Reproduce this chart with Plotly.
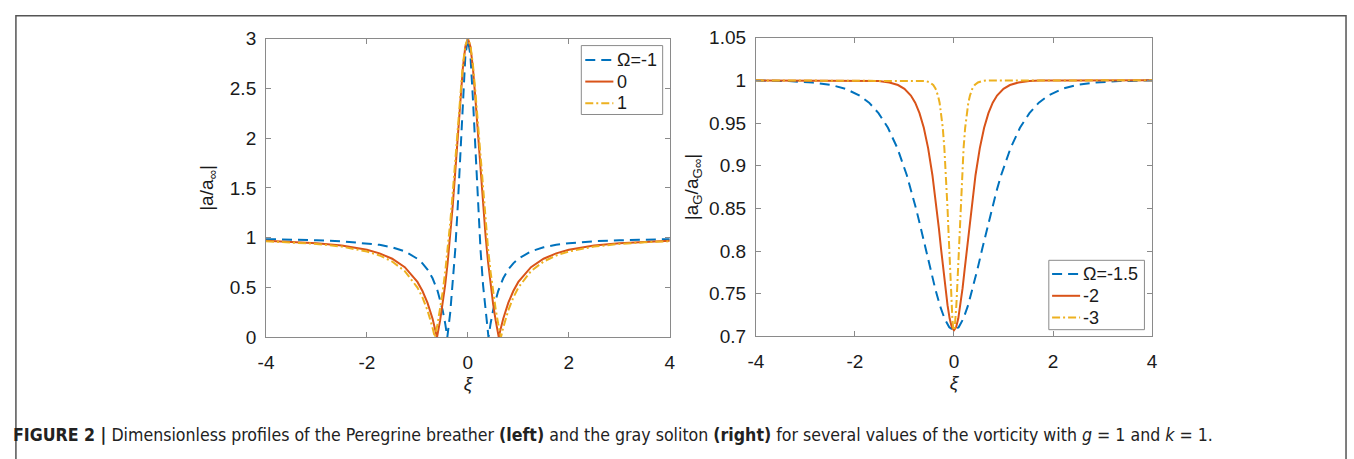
import plotly.graph_objects as go

# ---------------- Left panel: Peregrine breather |a/a_inf| ----------------
xi_m1 = [-4, -3.5, -3, -2.5, -2, -1.75, -1.5, -1.25, -1, -0.9, -0.8, -0.7, -0.6, -0.5, -0.45, -0.408,
         -0.35, -0.3, -0.25, -0.2, -0.15, -0.1, -0.05, 0,
         0.05, 0.1, 0.15, 0.2, 0.25, 0.3, 0.35, 0.408, 0.45, 0.5, 0.6, 0.7, 0.8, 0.9, 1, 1.25, 1.5,
         1.75, 2, 2.5, 3, 3.5, 4]
amp_m1 = [0.986, 0.982, 0.975, 0.965, 0.945, 0.929, 0.904, 0.863, 0.789, 0.743, 0.681, 0.593, 0.465, 0.273,
          0.139, 0.0, 0.248, 0.527, 0.882, 1.326, 1.847, 2.390, 2.828, 3.0,
          2.828, 2.390, 1.847, 1.326, 0.882, 0.527, 0.248, 0.0, 0.139, 0.273, 0.465, 0.593, 0.681, 0.743,
          0.789, 0.863, 0.904, 0.929, 0.945, 0.965, 0.975, 0.982, 0.986]

xi_0 = [-4, -3.5, -3, -2.5, -2, -1.75, -1.5, -1.25, -1, -0.9, -0.8, -0.7, -0.65, -0.612, -0.55, -0.5,
        -0.45, -0.4, -0.35, -0.3, -0.25, -0.2, -0.15, -0.1, -0.05, 0,
        0.05, 0.1, 0.15, 0.2, 0.25, 0.3, 0.35, 0.4, 0.45, 0.5, 0.55, 0.612, 0.65, 0.7, 0.8, 0.9, 1,
        1.25, 1.5, 1.75, 2, 2.5, 3, 3.5, 4]
amp_0 = [0.969, 0.960, 0.945, 0.922, 0.879, 0.843, 0.789, 0.704, 0.556, 0.465, 0.346, 0.187, 0.087, 0.0,
         0.170, 0.333, 0.527, 0.754, 1.020, 1.326, 1.667, 2.030, 2.390, 2.704, 2.922, 3.0,
         2.922, 2.704, 2.390, 2.030, 1.667, 1.326, 1.020, 0.754, 0.527, 0.333, 0.170, 0.0, 0.087, 0.187,
         0.346, 0.465, 0.556, 0.704, 0.789, 0.843, 0.879, 0.922, 0.945, 0.960, 0.969]

xi_p1 = [-4, -3.5, -3, -2.5, -2, -1.75, -1.5, -1.25, -1, -0.9, -0.8, -0.7, -0.655, -0.6, -0.55, -0.5,
         -0.45, -0.4, -0.35, -0.3, -0.25, -0.2, -0.15, -0.1, -0.05, 0,
         0.05, 0.1, 0.15, 0.2, 0.25, 0.3, 0.35, 0.4, 0.45, 0.5, 0.55, 0.6, 0.655, 0.7, 0.8, 0.9, 1,
         1.25, 1.5, 1.75, 2, 2.5, 3, 3.5, 4]
amp_p1 = [0.965, 0.954, 0.938, 0.911, 0.862, 0.822, 0.761, 0.665, 0.500, 0.400, 0.270, 0.097, 0.0, 0.136,
          0.283, 0.455, 0.655, 0.887, 1.153, 1.454, 1.783, 2.125, 2.456, 2.738, 2.931, 3.0,
          2.931, 2.738, 2.456, 2.125, 1.783, 1.454, 1.153, 0.887, 0.655, 0.455, 0.283, 0.136, 0.0, 0.097,
          0.270, 0.400, 0.500, 0.665, 0.761, 0.822, 0.862, 0.911, 0.938, 0.954, 0.965]

# ---------------- Right panel: gray soliton |a_G/a_G_inf| ----------------
xi_g15 = [-4, -3.810, -3.333, -2.857, -2.476, -2.190, -1.905, -1.714, -1.524, -1.333, -1.143, -0.952,
          -0.857, -0.762, -0.667, -0.571, -0.476, -0.381, -0.286, -0.190, -0.095, 0,
          0.095, 0.190, 0.286, 0.381, 0.476, 0.571, 0.667, 0.762, 0.857, 0.952, 1.143, 1.333, 1.524,
          1.714, 1.905, 2.190, 2.476, 2.857, 3.333, 3.810, 4]
amp_g15 = [0.9998, 0.9997, 0.9991, 0.9975, 0.9945, 0.9901, 0.9822, 0.9738, 0.9616, 0.9444, 0.9206, 0.8888,
           0.8698, 0.8488, 0.8262, 0.8026, 0.7790, 0.7564, 0.7365, 0.7208, 0.7106, 0.7071,
           0.7106, 0.7208, 0.7365, 0.7564, 0.7790, 0.8026, 0.8262, 0.8488, 0.8698, 0.8888, 0.9206, 0.9444,
           0.9616, 0.9738, 0.9822, 0.9901, 0.9945, 0.9975, 0.9991, 0.9997, 0.9998]

xi_g2 = [-4, -2.174, -1.739, -1.522, -1.304, -1.130, -1.0, -0.870, -0.783, -0.696, -0.609, -0.522, -0.435,
         -0.391, -0.348, -0.304, -0.261, -0.217, -0.174, -0.130, -0.087, -0.043, 0,
         0.043, 0.087, 0.130, 0.174, 0.217, 0.261, 0.304, 0.348, 0.391, 0.435, 0.522, 0.609, 0.696, 0.783,
         0.870, 1.0, 1.130, 1.304, 1.522, 1.739, 2.174, 4]
amp_g2 = [1.0, 0.9999, 0.9997, 0.9991, 0.9975, 0.9945, 0.9901, 0.9822, 0.9738, 0.9616, 0.9444, 0.9206,
          0.8888, 0.8698, 0.8488, 0.8262, 0.8026, 0.7790, 0.7564, 0.7365, 0.7208, 0.7106, 0.7071,
          0.7106, 0.7208, 0.7365, 0.7564, 0.7790, 0.8026, 0.8262, 0.8488, 0.8698, 0.8888, 0.9206, 0.9444,
          0.9616, 0.9738, 0.9822, 0.9901, 0.9945, 0.9975, 0.9991, 0.9997, 0.9999, 1.0]

xi_g3 = [-4, -0.806, -0.645, -0.565, -0.484, -0.419, -0.371, -0.323, -0.290, -0.258, -0.226, -0.194,
         -0.161, -0.145, -0.129, -0.113, -0.097, -0.081, -0.065, -0.048, -0.032, -0.016, 0,
         0.016, 0.032, 0.048, 0.065, 0.081, 0.097, 0.113, 0.129, 0.145, 0.161, 0.194, 0.226, 0.258, 0.290,
         0.323, 0.371, 0.419, 0.484, 0.565, 0.645, 0.806, 4]
amp_g3 = [1.0, 0.9999, 0.9997, 0.9991, 0.9975, 0.9945, 0.9901, 0.9822, 0.9738, 0.9616, 0.9444, 0.9206,
          0.8888, 0.8698, 0.8488, 0.8262, 0.8026, 0.7790, 0.7564, 0.7365, 0.7208, 0.7106, 0.7071,
          0.7106, 0.7208, 0.7365, 0.7564, 0.7790, 0.8026, 0.8262, 0.8488, 0.8698, 0.8888, 0.9206, 0.9444,
          0.9616, 0.9738, 0.9822, 0.9901, 0.9945, 0.9975, 0.9991, 0.9997, 0.9999, 1.0]

names_left = ["Ω=-1", "0", "1"]
names_right = ["Ω=-1.5", "-2", "-3"]
x_ticks = [-4, -2, 0, 2, 4]
y_ticks_left = [0, 0.5, 1, 1.5, 2, 2.5, 3]
y_ticks_right = [0.7, 0.75, 0.8, 0.85, 0.9, 0.95, 1, 1.05]

BLUE, ORANGE, YELLOW = "#0072BD", "#D95319", "#EDB120"
W, H = 1354, 459
FONT = "Liberation Sans, Arial, Helvetica, sans-serif"
TXT = "#1a1a1a"
AXC = "#8a8a8a"

fig = go.Figure()
styles = [dict(color=BLUE, width=2, dash="10px,6px"),
          dict(color=ORANGE, width=2),
          dict(color=YELLOW, width=2, dash="8px,3px,2px,3px")]

for xs, ys, nm, st in zip([xi_m1, xi_0, xi_p1], [amp_m1, amp_0, amp_p1], names_left, styles):
    fig.add_trace(go.Scatter(x=xs, y=ys, mode="lines", name=nm, line=st,
                             xaxis="x", yaxis="y", showlegend=False))
for xs, ys, nm, st in zip([xi_g15, xi_g2, xi_g3], [amp_g15, amp_g2, amp_g3], names_right, styles):
    fig.add_trace(go.Scatter(x=xs, y=ys, mode="lines", name=nm, line=st,
                             xaxis="x2", yaxis="y2", showlegend=False))

axis_common = dict(showgrid=False, zeroline=False, showline=True, linecolor=AXC, linewidth=1,
                   mirror="ticks", ticks="inside", ticklen=5, tickcolor=AXC,
                   tickfont=dict(family=FONT, size=19, color=TXT))


def px_x(p):
    return p / W


def px_y(p):
    return 1 - p / H


title_font = dict(family=FONT, size=19, color=TXT)

fig.update_layout(
    width=W, height=H, margin=dict(l=0, r=0, t=0, b=0),
    paper_bgcolor="white", plot_bgcolor="white", showlegend=False,
    xaxis=dict(domain=[px_x(260.7), px_x(668.7)], range=[-4, 4], tickvals=x_ticks,
               ticktext=[str(t) for t in x_ticks], anchor="y", ticklabelstandoff=8,
               title=dict(text="<i>ξ</i>", font=title_font, standoff=2),
               **axis_common),
    yaxis=dict(domain=[px_y(343), px_y(30)], range=[0, 3], tickvals=y_ticks_left,
               ticktext=["0", "0.5", "1", "1.5", "2", "2.5", "3"], anchor="x", ticklabelstandoff=5,
               title=dict(text="|a/a<sub>∞</sub>|", font=title_font, standoff=11),
               **axis_common),
    xaxis2=dict(domain=[px_x(755.7), px_x(1156)], range=[-4, 4], tickvals=x_ticks,
                ticktext=[str(t) for t in x_ticks], anchor="y2", ticklabelstandoff=8,
                title=dict(text="<i>ξ</i>", font=title_font, standoff=2),
                **axis_common),
    yaxis2=dict(domain=[px_y(342), px_y(29)], range=[0.7, 1.05], tickvals=y_ticks_right,
                ticktext=["0.7", "0.75", "0.8", "0.85", "0.9", "0.95", "1", "1.05"], anchor="x2",
                ticklabelstandoff=5,
                title=dict(text="|a<sub>G</sub>/a<sub>G∞</sub>|", font=title_font, standoff=5),
                **axis_common),
)

# outer frame of the figure panel
fig.add_shape(type="rect", xref="paper", yref="paper", x0=px_x(8), x1=px_x(1352), y0=-0.05, y1=px_y(6),
              line=dict(color="#555", width=1.5), fillcolor="rgba(0,0,0,0)", layer="below")

# legends (MATLAB style boxes): box in pixels, row centres, sample start/end, text start
legend_specs = [
    dict(box=(579.3, 37.3, 661.5, 109.5), rows=[52.3, 75.0, 97.7], sx=(583.3, 611.7), tx=614.0,
         names=names_left),
    dict(box=(1051.7, 262.3, 1148.3, 335.0), rows=[276.7, 299.5, 322.3], sx=(1055.0, 1083.3), tx=1085.5,
         names=names_right),
]
for spec in legend_specs:
    bx0, by0, bx1, by1 = spec["box"]
    fig.add_shape(type="rect", xref="paper", yref="paper", x0=px_x(bx0), x1=px_x(bx1),
                  y0=px_y(by1), y1=px_y(by0), line=dict(color=AXC, width=1), fillcolor="white",
                  layer="above")
    for ry, nm, st in zip(spec["rows"], spec["names"], styles):
        fig.add_shape(type="line", xref="paper", yref="paper", x0=px_x(spec["sx"][0]), x1=px_x(spec["sx"][1]),
                      y0=px_y(ry), y1=px_y(ry), line=st, layer="above")
        fig.add_annotation(text=nm, xref="paper", yref="paper", x=px_x(spec["tx"]), y=px_y(ry),
                           xanchor="left", yanchor="middle", showarrow=False, borderpad=0,
                           font=dict(family=FONT, size=18, color=TXT))

caption = ("<b>FIGURE 2 |</b> Dimensionless profiles of the Peregrine breather <b>(left)</b> and the gray "
           "soliton <b>(right)</b> for several values of the vorticity with <i>g</i> = 1 and <i>k</i> = 1.")
fig.add_annotation(text=caption, xref="paper", yref="paper", x=px_x(3), y=px_y(445),
                   xanchor="left", yanchor="middle", showarrow=False,
                   font=dict(family="DejaVu Sans Condensed, Liberation Sans Narrow, sans-serif",
                             size=17.6, color="#222"))

fig.write_html("out.html")
